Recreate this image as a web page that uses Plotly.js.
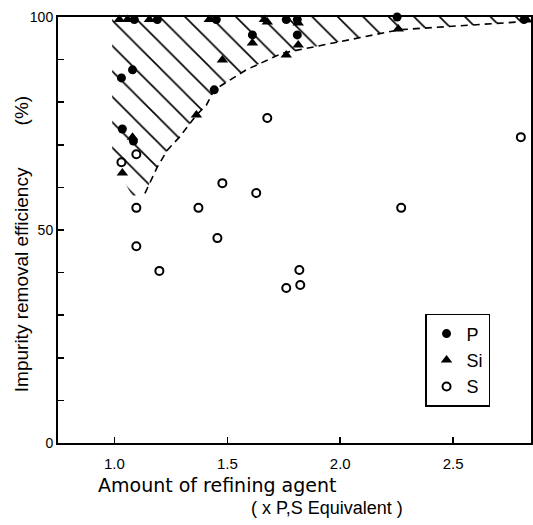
<!DOCTYPE html>
<html>
<head>
<meta charset="utf-8">
<script src="https://cdn.plot.ly/plotly-3.0.1.min.js"></script>
<style>html,body{margin:0;padding:0;background:#fff;}#chart{width:533px;height:525px;}</style>
</head>
<body>
<div id="chart"></div>
<script>
// Phosphorus (filled circles)
const pX = [1.031, 1.080, 1.035, 1.084, 1.442, 1.611, 1.810, 1.088, 1.190, 1.451, 1.761, 1.810, 2.252, 2.814];
const pY = [85.7, 87.6, 73.7, 70.9, 82.9, 95.8, 95.8, 99.4, 99.4, 99.4, 99.4, 99.4, 100.0, 99.4];
// Silicon (filled triangles)
const siX = [1.022, 1.058, 1.155, 1.420, 1.664, 1.677, 1.814, 1.611, 1.814, 1.761, 1.478, 1.363, 1.080, 1.035, 2.257, 2.827];
const siY = [99.4, 99.4, 99.4, 99.4, 99.4, 98.8, 98.6, 93.9, 93.4, 91.1, 89.9, 77.0, 71.8, 63.4, 97.2, 99.3];
// Sulphur (open circles)
const sX = [1.677, 1.097, 1.031, 1.478, 1.628, 1.097, 1.372, 1.456, 1.097, 1.199, 1.819, 1.761, 1.823, 2.270, 2.800];
const sY = [76.3, 67.8, 65.9, 61.0, 58.7, 55.2, 55.2, 48.1, 46.2, 40.4, 40.6, 36.4, 37.1, 55.2, 71.8];
// Lower boundary (dashed) of the hatched band
const bandX = [1.135, 1.146, 1.190, 1.235, 1.288, 1.363, 1.407, 1.442, 1.584, 1.743, 1.819, 2.261, 2.779, 2.845];
const bandY = [58.6, 59.9, 64.8, 68.8, 71.8, 77.0, 79.3, 82.9, 87.6, 91.5, 92.3, 97.0, 98.8, 99.1];
// Left edge of the hatched band
const edgeX = [0.99, 0.99, 1.08];
const edgeY = [100, 66, 58];

const xTicks = [1.0, 1.5, 2.0, 2.5];
const xTickText = ['1.0', '1.5', '2.0', '2.5'];
const yTicks = [0, 10, 20, 30, 40, 50, 60, 70, 80, 90, 100];
const yTickText = ['0', '', '', '', '', '50', '', '', '', '', '100'];

const polyX = edgeX.concat(bandX, [2.845, 0.99]);
const polyY = edgeY.concat(bandY, [100, 100]);

const FONT = 'Liberation Sans, Arial, sans-serif';
const WIDE = 'DejaVu Sans, Verdana, sans-serif';

const traces = [
  {x: polyX, y: polyY, mode: 'lines', fill: 'toself', line: {width: 0, color: 'rgba(0,0,0,0)'},
   fillcolor: 'rgba(0,0,0,0)',
   fillpattern: {shape: '\\', fgcolor: '#000', bgcolor: 'rgba(255,255,255,0)', size: 18, solidity: 0.09},
   showlegend: false, hoverinfo: 'skip'},
  {x: bandX, y: bandY, mode: 'lines', line: {color: '#000', width: 1.6, dash: '7px,5px'}, showlegend: false, hoverinfo: 'skip'},
  {x: pX, y: pY, mode: 'markers', name: 'P', marker: {symbol: 'circle', size: 9, color: '#000'}, cliponaxis: false},
  {x: siX, y: siY, mode: 'markers', name: 'Si', marker: {symbol: 'triangle-up', size: 10, color: '#000'}, cliponaxis: false},
  {x: sX, y: sY, mode: 'markers', name: 'S', marker: {symbol: 'circle-open', size: 8, color: '#000', line: {width: 2, color: '#000'}}, cliponaxis: false}
];

const layout = {
  width: 533, height: 525,
  margin: {l: 58, r: 2, t: 17, b: 82},
  paper_bgcolor: '#fff', plot_bgcolor: '#fff',
  font: {family: FONT, color: '#000', size: 15},
  showlegend: true,
  legend: {x: 0.776, xanchor: 'left', y: 0.303, yanchor: 'top', bordercolor: '#000', borderwidth: 1.5,
           bgcolor: '#fff', font: {family: FONT, size: 18, color: '#000'}, tracegroupgap: 0},
  xaxis: {range: [0.75, 2.845], tickvals: xTicks, ticktext: xTickText, ticks: 'inside', ticklen: 6, tickwidth: 1.5,
          tickcolor: '#000', showline: true, linecolor: '#000', linewidth: 2, mirror: true, showgrid: false,
          zeroline: false, ticklabelstandoff: 6, tickfont: {family: FONT, size: 15}},
  yaxis: {range: [0, 100], tickvals: yTicks, ticktext: yTickText, ticks: 'inside', ticklen: 6, tickwidth: 1.5,
          tickcolor: '#000', showline: true, linecolor: '#000', linewidth: 2, mirror: true, showgrid: false,
          zeroline: false, ticklabelstandoff: 0, tickfont: {family: FONT, size: 14}},
  annotations: [
    {text: 'Amount of refining agent', xref: 'paper', yref: 'paper', x: 0.336, y: -0.099, xanchor: 'center', yanchor: 'middle',
     showarrow: false, font: {family: WIDE, size: 19}},
    {text: '( x P,S Equivalent )', xref: 'paper', yref: 'paper', x: 0.569, y: -0.152, xanchor: 'center', yanchor: 'middle',
     showarrow: false, font: {family: FONT, size: 18}},
    {text: 'Impurity removal efficiency\u00a0\u00a0\u00a0\u00a0\u00a0\u00a0\u00a0\u00a0(%)', xref: 'paper', yref: 'paper', x: -0.078, y: 0.467, xanchor: 'center', yanchor: 'middle',
     textangle: -90, showarrow: false, font: {family: FONT, size: 19}}
  ]
};

Plotly.newPlot('chart', traces, layout, {staticPlot: true, displayModeBar: false});
</script>
</body>
</html>
